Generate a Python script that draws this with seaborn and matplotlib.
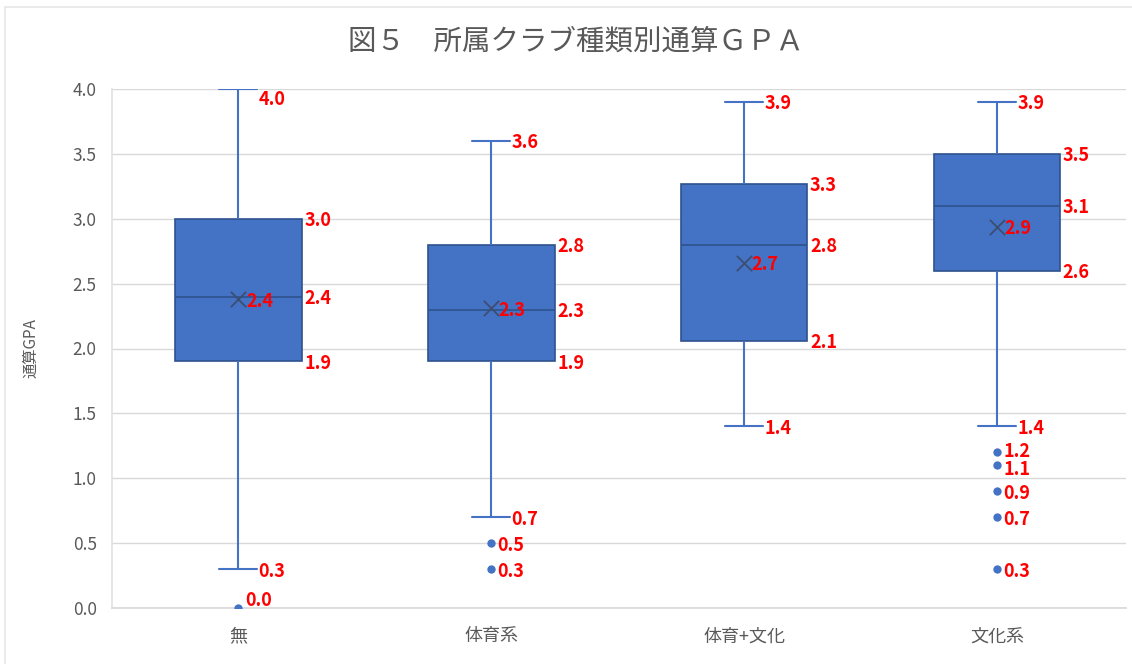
import numpy as np
import pandas as pd
import seaborn as sns
import matplotlib.pyplot as plt
from matplotlib.patches import Rectangle

# Daten: Kennwerte je Kategorie
kategorien = ["無", "体育系", "体育+文化", "文化系"]
minimum = [0.3, 0.7, 1.4, 1.4]        # untere Whisker
q1 = [1.9, 1.9, 2.06, 2.6]
median = [2.4, 2.3, 2.8, 3.1]
q3 = [3.0, 2.8, 3.27, 3.5]
maximum = [4.0, 3.6, 3.9, 3.9]        # obere Whisker
mittelwert = [2.38, 2.31, 2.66, 2.94]
ausreisser_kat = ["無", "体育系", "体育系", "文化系", "文化系", "文化系", "文化系", "文化系"]
ausreisser_wert = [0.0, 0.5, 0.3, 1.2, 1.1, 0.9, 0.7, 0.3]

# Tabelle für seaborn: fünf Werte je Kategorie -> Quartile liegen exakt auf q1/median/q3
zeilen = []
for i, k in enumerate(kategorien):
    for w in [minimum[i], q1[i], median[i], q3[i], maximum[i]]:
        zeilen.append({"Kategorie": k, "GPA": w})
tabelle = pd.DataFrame(zeilen)
ausreisser = pd.DataFrame({"Kategorie": ausreisser_kat, "GPA": ausreisser_wert})
mittel = pd.DataFrame({"Kategorie": kategorien, "GPA": mittelwert})

sns.set_theme(style="white")
plt.rcParams['font.family'] = ['Noto Sans CJK JP', 'DejaVu Sans']

blau = "#4472C4"
dunkelblau = "#2F528F"
grau = "#595959"

fig = plt.figure(figsize=(11.32, 6.64), dpi=100)
ax = fig.add_axes([112 / 1132, 1 - 608 / 664, (1126 - 112) / 1132, (608 - 89) / 664])

sns.boxplot(
    data=tabelle, x="Kategorie", y="GPA", order=kategorien,
    whis=(0, 100), width=0.5, showfliers=False, ax=ax,
    boxprops={"facecolor": blau, "edgecolor": dunkelblau, "linewidth": 1.2},
    medianprops={"color": dunkelblau, "linewidth": 1.2},
    whiskerprops={"color": blau, "linewidth": 1.5},
    capprops={"color": blau, "linewidth": 1.5},
    capwidths=0.15,
)

# Ausreißer als Punkte
sns.stripplot(data=ausreisser, x="Kategorie", y="GPA", order=kategorien,
              jitter=False, color=blau, size=6, ax=ax, zorder=5)

# Mittelwert als Kreuz
sns.stripplot(data=mittel, x="Kategorie", y="GPA", order=kategorien,
              jitter=False, marker="x", color="#3B4E72", size=11, linewidth=1.3,
              ax=ax, zorder=5)

# Beschriftungen in Rot (leicht unter dem Wert, wie im Original)
beschr = dict(color="red", fontsize=13, fontweight="bold", va="center", ha="left", clip_on=False)
d = -0.015
for i, k in enumerate(kategorien):
    for w in [q1[i], median[i], q3[i]]:
        ax.text(i + 0.26, w + d, f"{w:.1f}", **beschr)
    for w in [minimum[i], maximum[i]]:
        y = w - 0.08 if w >= 4.0 else w + d
        ax.text(i + 0.08, y, f"{w:.1f}", **beschr)
    ax.text(i + 0.03, mittelwert[i] + d, f"{mittelwert[i]:.1f}", **beschr)
for k, w in zip(ausreisser_kat, ausreisser_wert):
    i = kategorien.index(k)
    if w <= 0.0:
        y = w + 0.06
    elif w == 1.2:
        y = w + 0.01
    elif w == 1.1:
        y = w - 0.03
    else:
        y = w + d
    ax.text(i + 0.025, y, f"{w:.1f}", **beschr)

# Achsen
ax.set_ylim(0, 4.0)
ax.set_xlim(-0.5, 3.51)
ax.set_yticks(np.arange(0, 4.01, 0.5))
ax.yaxis.set_major_formatter(plt.FormatStrFormatter("%.1f"))
ax.grid(axis="y", color="#D9D9D9", linewidth=1)
ax.set_axisbelow(True)
for s in ["top", "right"]:
    ax.spines[s].set_visible(False)
ax.spines["left"].set_color("#E3E3E3")
ax.spines["bottom"].set_color("#D9D9D9")
ax.tick_params(axis="y", length=0, pad=11, labelsize=12.5, labelcolor=grau)
ax.tick_params(axis="x", length=0, pad=14, labelsize=13, labelcolor=grau)
ax.set_xlabel("")
ax.set_ylabel("通算GPA", fontsize=11, color=grau)
ax.yaxis.set_label_coords(-0.072, 0.5)

# Titel
fig.text(0.509, 1 - 42 / 664, "図５　所属クラブ種類別通算ＧＰＡ",
         ha="center", va="center", fontsize=20.5, color=grau)

# Rahmen
fig.add_artist(Rectangle((5 / 1132, -0.1), 1.2, 1.1 - 7 / 664,
                         transform=fig.transFigure, fill=False,
                         edgecolor="#E6E6E6", linewidth=1.2))

fig.savefig("out.png", dpi=100)
